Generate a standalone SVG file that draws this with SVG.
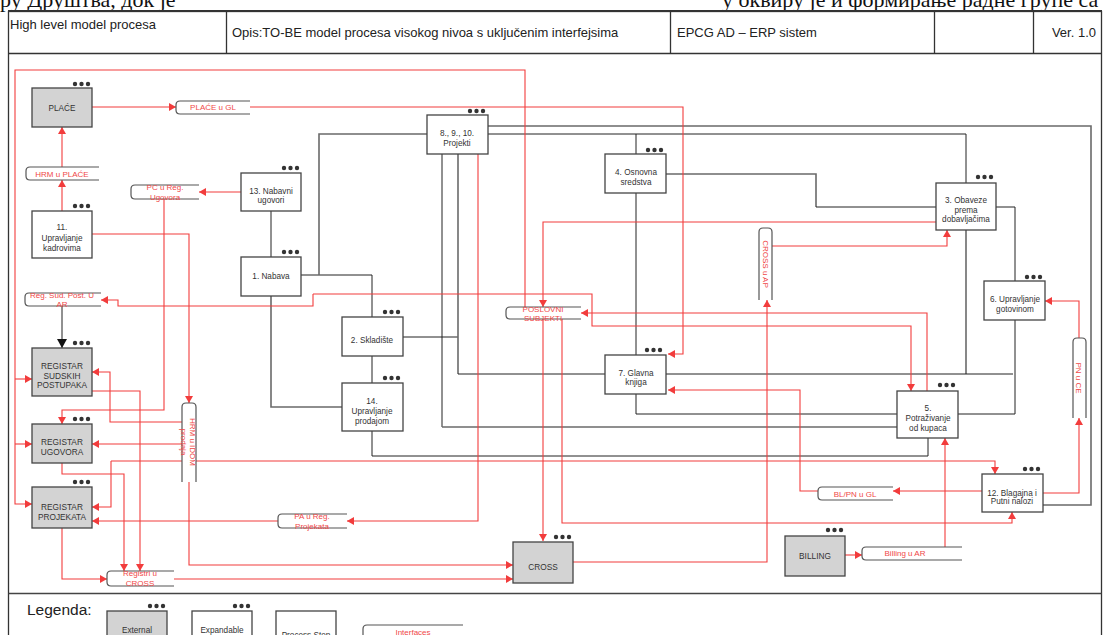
<svg xmlns="http://www.w3.org/2000/svg" width="1107" height="635" viewBox="0 0 1107 635">
<defs>
<style>
.frame{fill:none;stroke:#333;stroke-width:1.3}
.box{fill:#fff;stroke:#444;stroke-width:1.3}
.ext{fill:#d3d3d3;stroke:#444;stroke-width:1.3}
.t{font-family:"Liberation Sans",Arial,sans-serif;font-size:8.2px;fill:#333;text-anchor:middle}
.tb{font-family:"Liberation Sans",Arial,sans-serif;font-size:8.3px;fill:#333;text-anchor:middle}
.it{font-family:"Liberation Sans",Arial,sans-serif;font-size:8px;fill:#f04848;text-anchor:middle}
.h{font-family:"Liberation Sans",Arial,sans-serif;font-size:13px;fill:#222}
.if{fill:#fff;stroke:#555;stroke-width:1.2}
.r{fill:none;stroke:#f23c3c;stroke-width:1.1}
.k{fill:none;stroke:#222;stroke-width:1}
.g{fill:none;stroke:#6a6a6a;stroke-width:1.6}
.cy{font-family:"Liberation Serif","DejaVu Serif",serif;font-size:22px;fill:#111}
</style>
<marker id="ar" markerWidth="8" markerHeight="8" refX="7" refY="4" orient="auto" markerUnits="userSpaceOnUse"><path d="M0,0 L7,4 L0,8 Z" fill="#f23c3c"/></marker>
<marker id="ak" markerWidth="10" markerHeight="10" refX="9" refY="5" orient="auto" markerUnits="userSpaceOnUse"><path d="M0,0 L9,5 L0,10 Z" fill="#111"/></marker>
<g id="dots"><circle cx="0" cy="0" r="2.2" fill="#333"/><circle cx="6.5" cy="0" r="2.2" fill="#333"/><circle cx="13" cy="0" r="2.2" fill="#333"/></g>
</defs>
<rect width="1107" height="635" fill="#fff"/>
<!-- clipped top text -->
<text class="cy" x="0" y="7">ру Друштва, док је</text>
<text class="cy" x="722" y="7">у оквиру је и формирање радне групе са</text>
<!-- frame and header -->
<g id="frame">
<rect x="8.5" y="11.5" width="1093" height="640" class="frame"/>
<line x1="8" y1="11" x2="1102" y2="11" stroke="#333" stroke-width="2"/>
<line x1="8.5" y1="53.5" x2="1101.5" y2="53.5" class="frame"/>
<line x1="226.5" y1="11" x2="226.5" y2="53.5" class="frame"/>
<line x1="670.5" y1="11" x2="670.5" y2="53.5" class="frame"/>
<line x1="934.5" y1="11" x2="934.5" y2="53.5" class="frame"/>
<line x1="1033.5" y1="11" x2="1033.5" y2="53.5" class="frame"/>
<line x1="8.5" y1="593.5" x2="1101.5" y2="593.5" stroke="#444" stroke-width="1.5"/>
<text x="10" y="29" class="h">High level model procesa</text>
<text x="232" y="37" class="h">Opis:TO-BE model procesa visokog nivoa s uključenim interfejsima</text>
<text x="677" y="37" class="h" font-size="12.5">EPCG AD – ERP sistem</text>
<text x="1096" y="37" class="h" text-anchor="end">Ver. 1.0</text>
</g>
<!-- connectors -->
<g id="connectors">
<!-- black / gray process links -->
<path class="k" d="M271,211 V257"/>
<path class="k" d="M301,275 H372 V317"/>
<path class="g" d="M319,275 V134 H427"/>
<path class="g" d="M271,296 V407 H342"/>
<path class="k" d="M372,356 V383"/>
<path class="k" d="M403,337 H458"/>
<path class="g" d="M458,154 V374"/>
<path class="k" d="M458,374 H605"/>
<path class="k" d="M442,154 V427"/>
<path class="g" d="M442,427 H897"/>
<path class="g" d="M488,126 H1091 V505 H1043"/>
<path class="k" d="M488,134 H966 V183"/>
<path class="k" d="M636,134 V154"/>
<path class="g" d="M666,174 H816 V207"/>
<path class="k" d="M816,207 H936"/>
<path class="k" d="M636,193 V355"/>
<path class="k" d="M996,207 H1015 V281"/>
<path class="g" d="M966,230 V374"/>
<path class="k" d="M666,374 H1013"/>
<path class="k" d="M1015,320 V414 H958"/>
<path class="k" d="M636,394 V414 H897"/>
<path class="k" d="M372,431 V456 H928 V438"/>
<path class="k" d="M62,306 V348" marker-end="url(#ak)"/>
<!-- red interface links -->
<path class="r" d="M92,107 H176" marker-end="url(#ar)"/>
<path class="r" d="M250,107 H683 V354 H668" marker-end="url(#ar)"/>
<path class="r" d="M62,211 V180" marker-end="url(#ar)"/>
<path class="r" d="M62,167 V127" marker-end="url(#ar)"/>
<path class="r" d="M241,192 H199" marker-end="url(#ar)"/>
<path class="r" d="M164,199 V410 H62 V424" marker-end="url(#ar)"/>
<path class="r" d="M92,234 H189 V403" marker-end="url(#ar)"/>
<path class="r" d="M189,482 V565 H513" marker-end="url(#ar)"/>
<path class="r" d="M174,579 H513" marker-end="url(#ar)"/>
<path class="r" d="M62,528 V579 H107" marker-end="url(#ar)"/>
<path class="r" d="M92,391 H140 V571" marker-end="url(#ar)"/>
<path class="r" d="M62,463 V474 H124 V571" marker-end="url(#ar)"/>
<path class="r" d="M111,461 H995 V474" marker-end="url(#ar)"/>
<path class="r" d="M111,461 V507 H92" marker-end="url(#ar)"/>
<path class="r" d="M525,307 V70 H15 V504 H32" marker-end="url(#ar)"/>
<path class="r" d="M15,379 H32" marker-end="url(#ar)"/>
<path class="r" d="M15,444 H32" marker-end="url(#ar)"/>
<path class="r" d="M936,222 H543 V307" marker-end="url(#ar)"/>
<path class="r" d="M543,319 V541" marker-end="url(#ar)"/>
<path class="r" d="M562,319 V523 H1012 V512" marker-end="url(#ar)"/>
<path class="r" d="M573,562 H767 V300" marker-end="url(#ar)"/>
<path class="r" d="M772,246 H947 V230" marker-end="url(#ar)"/>
<path class="r" d="M982,491 H893" marker-end="url(#ar)"/>
<path class="r" d="M818,491 H800 V390 H668" marker-end="url(#ar)"/>
<path class="r" d="M1043,493 H1079 V418" marker-end="url(#ar)"/>
<path class="r" d="M1079,338 V301 H1045" marker-end="url(#ar)"/>
<path class="r" d="M845,555 H862" marker-end="url(#ar)"/>
<path class="r" d="M945,547 V438" marker-end="url(#ar)"/>
<path class="r" d="M478,154 V521 H347" marker-end="url(#ar)"/>
<path class="r" d="M278,521 H92" marker-end="url(#ar)"/>
<path class="r" d="M182,422 H110 V372 H92" marker-end="url(#ar)"/>
<path class="r" d="M182,444 H92" marker-end="url(#ar)"/>
<path class="r" d="M313,294 H592 V326 H911 V391" marker-end="url(#ar)"/>
<path class="r" d="M313,294 V306 H118 V300 H101" marker-end="url(#ar)"/>
<path class="r" d="M927,391 V313 H581" marker-end="url(#ar)"/>
</g>
<!-- interfaces -->
<g id="if-place-gl"><path class="if" d="M250,101 H180 Q176,101 176,105 V110 Q176,114 180,114 H250"/><text class="it" x="213" y="110">PLAĆE u GL</text></g>
<g id="if-hrm-place"><path class="if" d="M99,167 H30 Q26,167 26,171 V176 Q26,180 30,180 H99"/><text class="it" x="62" y="176.5">HRM u PLAĆE</text></g>
<g id="if-pc-reg"><path class="if" d="M199,185 H135 Q131,185 131,189 V195 Q131,199 135,199 H199"/><text class="it" x="165" y="190">PC u Reg.</text><text class="it" x="165" y="200">Ugovora</text></g>
<g id="if-reg-sud"><path class="if" d="M101,293 H29 Q25,293 25,297 V302 Q25,306 29,306 H101"/><text class="it" x="62" y="298">Reg. Sud. Post. U</text><text class="it" x="62" y="307">AR</text></g>
<g id="if-poslovni"><path class="if" d="M581,307 H510 Q506,307 506,311 V315 Q506,319 510,319 H581"/><text class="it" x="543" y="312">POSLOVNI</text><text class="it" x="543" y="321">SUBJEKTI</text></g>
<g id="if-cross-ap"><path class="if" d="M759,300 V232 Q759,228 763,228 H768 Q772,228 772,232 V300"/><text class="it" transform="translate(766,264) rotate(90)" y="3">CROSS u AP</text></g>
<g id="if-hrm-idom"><path class="if" d="M182,482 V407 Q182,403 186,403 H192 Q196,403 196,407 V482"/><text class="it" transform="translate(189,442) rotate(90)" y="-0.5">HRM u IDOM</text><text class="it" transform="translate(189,442) rotate(90)" y="8.5">prodaja</text></g>
<g id="if-pn-ce"><path class="if" d="M1073,418 V342 Q1073,338 1077,338 H1082 Q1086,338 1086,342 V418"/><text class="it" transform="translate(1079,378) rotate(90)" y="3">PN u CE</text></g>
<g id="if-bl-pn"><path class="if" d="M893,487 H822 Q818,487 818,491 V496 Q818,500 822,500 H893"/><text class="it" x="855" y="496.5">BL/PN u GL</text></g>
<g id="if-pa-reg"><path class="if" d="M347,514 H282 Q278,514 278,518 V524 Q278,528 282,528 H347"/><text class="it" x="312" y="519">PA u Reg.</text><text class="it" x="312" y="529">Projekata</text></g>
<g id="if-registri"><path class="if" d="M174,571 H111 Q107,571 107,575 V582 Q107,586 111,586 H174"/><text class="it" x="140" y="576">Registri u</text><text class="it" x="140" y="586">CROSS</text></g>
<g id="if-billing"><path class="if" d="M962,547 H866 Q862,547 862,551 V556 Q862,560 866,560 H962"/><text class="it" x="905" y="556">Billing u  AR</text></g>
<!-- nodes -->
<g id="n-place"><rect class="ext" x="32" y="88" width="60" height="39"/><use href="#dots" x="75" y="84"/><text class="t" x="62" y="111">PLAĆE</text></g>
<g id="n-11"><rect class="box" x="32" y="211" width="60" height="47"/><use href="#dots" x="75" y="206"/><text class="t" x="62" y="230">11.</text><text class="t" x="62" y="240.5">Upravljanje</text><text class="t" x="62" y="251">kadrovima</text></g>
<g id="n-13"><rect class="box" x="241" y="173" width="60" height="38"/><use href="#dots" x="284" y="168"/><text class="t" x="271" y="194">13. Nabavni</text><text class="t" x="271" y="203">ugovori</text></g>
<g id="n-1"><rect class="box" x="241" y="257" width="60" height="39"/><use href="#dots" x="284" y="252"/><text class="t" x="271" y="279">1. Nabava</text></g>
<g id="n-8910"><rect class="box" x="427" y="115" width="61" height="39"/><use href="#dots" x="470" y="111"/><text class="t" x="457" y="136">8., 9., 10.</text><text class="t" x="457" y="146">Projekti</text></g>
<g id="n-4"><rect class="box" x="605" y="154" width="61" height="39"/><use href="#dots" x="648" y="150"/><text class="t" x="636" y="175">4. Osnovna</text><text class="t" x="636" y="185">sredstva</text></g>
<g id="n-3"><rect class="box" x="936" y="183" width="60" height="47"/><use href="#dots" x="978" y="177"/><text class="t" x="966" y="203">3. Obaveze</text><text class="t" x="966" y="213">prema</text><text class="t" x="966" y="222">dobavljačima</text></g>
<g id="n-6"><rect class="box" x="984" y="281" width="61" height="39"/><use href="#dots" x="1027" y="277"/><text class="t" x="1015" y="302">6. Upravljanje</text><text class="t" x="1015" y="312">gotovinom</text></g>
<g id="n-2"><rect class="box" x="342" y="317" width="61" height="39"/><use href="#dots" x="385" y="312"/><text class="t" x="372" y="343">2. Skladište</text></g>
<g id="n-14"><rect class="box" x="342" y="383" width="61" height="48"/><use href="#dots" x="385" y="378"/><text class="t" x="372" y="404">14.</text><text class="t" x="372" y="414">Upravljanje</text><text class="t" x="372" y="424">prodajom</text></g>
<g id="n-7"><rect class="box" x="605" y="355" width="61" height="39"/><use href="#dots" x="647" y="350"/><text class="t" x="636" y="376">7. Glavna</text><text class="t" x="636" y="385">knjiga</text></g>
<g id="n-5"><rect class="box" x="897" y="391" width="61" height="47"/><use href="#dots" x="940" y="385"/><text class="t" x="928" y="411">5.</text><text class="t" x="928" y="421">Potraživanje</text><text class="t" x="928" y="431">od kupaca</text></g>
<g id="n-12"><rect class="box" x="982" y="474" width="61" height="38"/><use href="#dots" x="1025" y="469"/><text class="t" x="1012" y="496">12. Blagajna i</text><text class="t" x="1012" y="504">Putni nalozi</text></g>
<g id="n-reg-sud"><rect class="ext" x="32" y="348" width="60" height="48"/><use href="#dots" x="75" y="343"/><text class="tb" x="62" y="369">REGISTAR</text><text class="tb" x="62" y="378.5">SUDSKIH</text><text class="tb" x="62" y="388">POSTUPAKA</text></g>
<g id="n-reg-ug"><rect class="ext" x="32" y="424" width="60" height="39"/><use href="#dots" x="75" y="419"/><text class="tb" x="62" y="445">REGISTAR</text><text class="tb" x="62" y="455">UGOVORA</text></g>
<g id="n-reg-proj"><rect class="ext" x="32" y="487" width="60" height="41"/><use href="#dots" x="75" y="482"/><text class="tb" x="62" y="510">REGISTAR</text><text class="tb" x="62" y="519.5">PROJEKATA</text></g>
<g id="n-cross"><rect class="ext" x="513" y="542" width="60" height="41"/><use href="#dots" x="556" y="537"/><text class="tb" x="543" y="570">CROSS</text></g>
<g id="n-billing"><rect class="ext" x="785" y="536" width="60" height="40"/><use href="#dots" x="828" y="530"/><text class="tb" x="815" y="559">BILLING</text></g>
<!-- legend -->
<g id="legend">
<text x="27" y="615" font-family="'Liberation Sans',Arial,sans-serif" font-size="15.5" fill="#222">Legenda:</text>
<rect class="ext" x="107" y="611" width="60" height="40"/><use href="#dots" x="150" y="606"/><text class="t" x="137" y="633">External</text><text class="t" x="137" y="643">process</text>
<rect class="box" x="192" y="611" width="60" height="40"/><use href="#dots" x="235" y="606"/><text class="t" x="222" y="633">Expandable</text><text class="t" x="222" y="643">Sub-process</text>
<rect class="box" x="276" y="611" width="60" height="40"/><text class="t" x="306" y="638">Process Step</text>
<path class="if" d="M463,625 H367 Q363,625 363,629 V635 Q363,639 367,639 H463"/><text class="it" x="413" y="635">Interfaces</text>
</g>
</svg>
